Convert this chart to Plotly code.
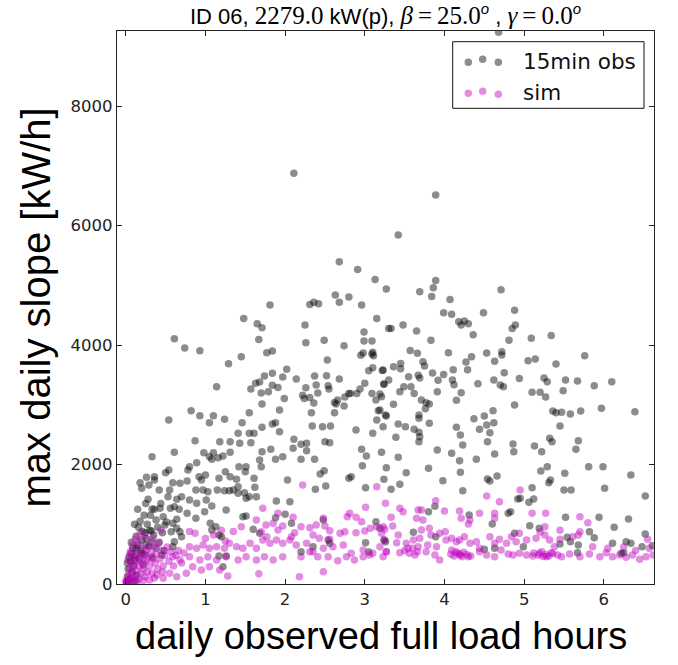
import plotly.graph_objects as go

# ---------------- data ----------------
obs_x = [
    4.68, 2.11, 3.89, 3.42, 2.68, 2.91, 3.13, 3.27, 2.63, 2.68, 2.80, 2.96, 2.31, 2.36, 2.42, 1.81, 1.48, 1.65, 1.71, 1.67,
    1.77, 1.84, 2.25, 2.26, 2.49, 2.53, 2.74, 2.99, 2.99, 3.09, 2.95, 2.98, 3.10, 3.11, 3.09, 3.15, 3.30, 0.61, 0.74, 0.93,
    1.45, 1.29, 1.14, 1.57, 1.63, 1.68, 1.74, 1.84, 1.70, 1.79, 1.84, 1.91, 1.71, 1.97, 2.02, 1.99, 1.93, 2.14, 2.26, 2.22,
    2.24, 2.31, 2.36, 2.33, 2.37, 2.39, 2.41, 2.52, 2.54, 2.55, 2.68, 2.62, 2.66, 2.75, 2.80, 2.82, 2.74, 2.62, 2.90, 2.94,
    3.00, 3.09, 3.19, 3.05, 3.10, 3.22, 3.14, 3.24, 3.17, 3.26, 0.82, 0.93, 1.10, 1.24, 1.55, 0.54,
    3.89, 3.86, 3.84, 3.69, 4.07, 3.99, 4.09, 4.18, 4.21, 4.25, 4.30, 4.36, 4.49, 4.71, 4.88, 4.89, 4.85, 4.81, 5.09, 5.34,
    3.33, 3.48, 3.65, 3.83, 3.57, 3.66, 4.05, 4.34, 4.27, 4.53, 4.72, 4.72, 4.63, 5.05, 5.14, 5.40, 5.76, 3.36, 3.45, 3.45,
    3.23, 3.73, 3.75, 3.55, 3.67, 3.69, 3.85, 3.99, 4.11, 3.92, 4.10, 4.12, 4.29, 4.42, 4.62, 4.75, 4.70, 4.74, 4.94, 5.25,
    5.29, 5.52, 5.67, 5.88, 6.10, 3.24, 3.30, 3.21, 3.49, 3.58, 3.44, 3.62, 3.71, 3.77, 3.81, 3.76, 3.91, 4.21, 4.15, 3.36,
    5.10, 5.20, 5.27, 5.49, 4.88, 5.36, 5.40, 5.47, 5.58, 5.71, 5.97, 6.39, 3.19, 3.27, 3.68, 3.68, 4.37, 4.50, 4.61,
    3.23, 3.42, 3.51, 3.39, 3.21, 3.42, 3.27, 3.52, 3.24, 3.44, 3.33, 3.62, 3.68, 3.69, 3.68, 3.81, 3.91, 3.80, 3.98, 3.80,
    3.88, 3.61, 3.89, 4.15, 4.20, 4.23, 4.09, 4.19, 4.20, 4.23, 4.44, 4.53, 4.62, 4.57, 4.54, 4.40, 4.63, 4.54, 4.57, 4.66,
    4.86, 4.87, 5.13, 5.22, 5.32, 5.35, 5.21, 5.29, 5.33, 5.31, 5.10, 4.92, 4.95, 5.06, 5.12, 5.45, 5.51, 5.59, 5.50, 5.65,
    5.68, 5.81, 5.99, 6.01, 6.34, 6.52, 5.52, 5.94, 6.13, 6.31, 6.52, 5.82, 5.45, 5.54, 5.58, 5.68, 5.67, 5.88, 6.11, 6.28,
    6.34, 6.48, 6.61, 6.22, 6.25, 4.99, 5.07, 5.19, 4.88, 4.80, 4.83, 4.60, 4.31, 4.50, 4.63, 3.19, 3.26,
    0.33, 0.61, 0.54, 0.50, 0.18, 0.26, 0.36, 0.20, 0.29, 0.36, 0.42, 0.28, 0.33, 0.43, 0.38, 0.47, 0.55, 0.59, 0.68, 0.77,
    0.53, 0.64, 0.70, 0.56, 0.61, 0.67, 0.49, 0.59, 0.64, 0.57, 0.64, 0.68, 0.70, 0.24, 0.32, 0.33, 0.20, 0.13, 0.07, 0.11,
    0.20, 0.45, 0.25, 0.59, 0.61, 0.78, 0.80, 0.87, 0.89, 0.98, 1.05, 1.10, 0.92, 0.95, 1.00, 0.88, 0.97, 1.03, 0.80, 0.89,
    1.01, 1.08, 0.77, 0.88, 0.99, 1.06, 1.13, 1.08, 1.17, 1.20, 1.18, 1.31, 1.08, 1.16, 1.22, 1.31, 1.17, 1.25, 1.31, 1.15,
    1.24, 1.26, 1.05, 1.41, 1.43, 1.46, 1.55, 1.61, 1.71, 1.57, 1.71, 1.82, 1.84, 1.88, 1.93, 1.88, 1.97, 1.68, 1.70, 1.51,
    1.42, 1.50, 1.39, 1.30, 1.35, 1.41, 1.49, 1.55, 1.51, 1.41, 1.62, 1.64, 1.61, 1.47, 1.51, 1.60, 1.68, 1.88, 1.89, 2.06,
    2.00, 2.08, 2.03, 2.11, 2.20, 2.27, 2.10, 2.20, 2.27, 2.37, 2.38, 2.44, 2.49, 2.51, 2.34, 2.47, 2.57, 2.64, 2.50, 2.56,
    2.89, 3.10, 2.80, 2.83, 2.96, 3.02, 2.97, 3.01, 3.15, 3.14, 2.48, 1.17, 1.26, 1.22, 2.35, 2.20, 2.54, 2.56, 3.01, 3.24,
    3.05,
    0.02, 0.03, 0.05, 0.06, 0.08, 0.09, 0.10, 0.12, 0.13, 0.14, 0.15, 0.16, 0.17, 0.18, 0.19, 0.21, 0.22, 0.23, 0.24, 0.26,
    0.27, 0.29, 0.30, 0.31, 0.33, 0.35, 0.36, 0.38, 0.40, 0.42, 0.44, 0.46, 0.48, 0.51, 0.04, 0.07, 0.11, 0.25, 0.15, 0.01,
    0.04, 0.12, 0.02,
]
obs_y = [
    9240, 6880, 6512, 5842, 5395, 5268, 5100, 4938, 4838, 4716, 4804, 4670, 4682, 4720, 4692, 4670, 4447, 4357, 4290, 4096,
    3872, 3900, 4336, 4040, 4080, 3750, 3990, 4218, 4068, 4068, 3830, 3870, 3880, 3820, 3850, 4447, 4280, 4106, 3950, 3905,
    3805, 3688, 3303, 3264, 3360, 3381, 3482, 3527, 3197, 3219, 3326, 3292, 3013, 3465, 3594, 3108, 2913, 3432, 3286, 3159,
    3108, 3125, 3030, 2868, 3482, 3331, 3197, 3487, 3320, 3264, 3432, 3041, 3080, 3130, 3192, 3192, 2980, 2868, 3192, 3264,
    3360, 3192, 3180, 3571, 3621, 3577, 3080, 3348, 2901, 2829, 2901, 2817, 2817, 2757, 2868, 2745,
    5084, 4960, 4816, 4893, 4766, 4542, 4515, 4391, 4336, 4403, 4357, 4173, 4542, 4927, 4582, 4336, 4280, 4080, 4113, 4163,
    4280, 4336, 4235, 4080, 3912, 3862, 3872, 3805, 3716, 3867, 3889, 3834, 3728, 3738, 3766, 3683, 3822, 3638, 3694, 3605,
    3582, 3722, 3650, 3471, 3494, 3448, 3532, 3510, 3588, 3410, 3415, 3337, 3588, 3353, 3415, 3537, 3331, 3303, 3443, 3448,
    3387, 3415, 3398, 3320, 3387, 3343, 3415, 3136, 3303, 3303, 3220, 3192, 3080, 3035, 3013, 2935, 3220, 3203, 3075, 3008,
    3209, 3209, 3130, 3236, 2996, 2896, 2868, 2874, 2846, 2896, 2941, 2885, 2913, 2812, 2829, 2774, 2768, 2812, 2901,
    2633, 2678, 2633, 2456, 2205, 2121, 1947, 1863, 1753, 1669, 1585, 2590, 2539, 2466, 2382, 2690, 2243, 1937, 1729, 1210,
    1300, 865, 792, 2623, 2494, 2327, 2188, 2064, 1870, 1562, 2590, 2662, 2700, 2533, 2382, 2087, 2176, 1758, 1724, 1808,
    2344, 2215, 2310, 2215, 2439, 2382, 1892, 1964, 1741, 1696, 1612, 1423, 1435, 1368, 1423, 2645, 1853, 1574, 1574, 2255,
    2399, 1964, 1964, 1602, 1825, 1473, 1116, 1116, 949, 1088, 837, 876, 670, 782, 708, 653, 524, 775, 681, 708,
    681, 624, 641, 514, 524, 624, 976, 932, 849, 1183, 1210, 1004, 1155, 581, 598, 932, 708,
    2131, 2205, 1908, 1863, 1696, 1786, 1796, 1602, 1657, 1741, 1574, 1418, 1256, 1267, 1071, 1127, 1574, 1696, 1686, 1724,
    1461, 1418, 1461, 1267, 1294, 1250, 988, 1016, 932, 876, 1083, 876, 792, 859, 887, 708, 737, 598, 514, 402,
    514, 485, 653, 624, 708, 1908, 1964, 2399, 2030, 2198, 2131, 2198, 1796, 1741, 1825, 1574, 1574, 1545, 1406, 1351,
    1406, 1306, 1183, 1100, 1210, 1016, 959, 904, 820, 792, 2382, 2382, 2087, 2115, 2143, 2205, 1769, 1880, 1796, 1574,
    1562, 1239, 2700, 2523, 2355, 2700, 2523, 2523, 2623, 2366, 2215, 2255, 2678, 2700, 2550, 2087, 2131, 2076, 1964, 1964,
    1964, 1880, 1753, 1562, 1574, 1518, 1528, 1461, 1435, 1630, 1618, 1461, 1769, 1127, 1138, 915, 849, 1110, 1390, 1378,
    1167, 1016, 1741, 2422, 2339, 2355, 2272, 2087, 2231, 2087, 1585, 1841, 1897, 1640, 2645, 2633, 2645, 3013, 2382, 2366,
    2578, 2523, 1769, 1796, 2255, 2143, 1980, 1612, 2745, 1043, 1071, 469, 469, 290, 624, 541, 737, 681, 692, 737,
    535,
    120, 250, 80, 380, 200, 600, 300, 480, 800, 150, 650, 950, 420, 1050, 560, 880, 320, 1150, 500, 760,
    1000, 620, 900, 1150, 450, 820, 1250, 600, 950, 700, 1350, 860, 560, 1040, 450, 700, 1000, 1350, 1250, 30,
    20, 60, 350,
]

sim_x = [
    3.15, 3.26, 3.01, 1.72, 1.91, 2.10, 2.81, 2.78, 2.89, 2.96, 2.48, 1.45, 1.64, 1.76, 1.85, 1.91, 1.97, 1.70, 1.77, 2.20,
    2.31, 2.39, 2.50, 2.56, 2.69, 2.75, 2.89, 3.00, 3.07, 3.15, 3.25, 2.12, 2.08, 2.35, 2.43, 2.56,
    1.97, 2.06, 2.14, 2.27, 2.35, 2.48, 2.60, 2.73, 2.83, 2.98, 3.06, 3.19, 3.27,
    1.89, 1.81, 1.72, 1.64, 1.56, 1.47, 1.39, 1.30, 1.24, 1.14, 1.05, 0.97, 0.89, 0.80,
    1.97, 1.85, 1.74, 1.64, 1.51, 1.41, 1.26, 1.14, 1.03, 0.93, 0.80, 0.68, 0.59,
    2.20, 2.31, 2.41, 2.54, 2.66, 2.77, 2.87, 2.98, 3.10, 3.23,
    0.84, 0.95, 1.05, 1.18, 1.28, 2.48, 0.76, 0.64, 0.55, 0.47, 0.39, 0.30, 2.22, 1.67, 2.18,
    4.53, 4.95, 3.89, 4.69, 4.44, 4.63, 4.63, 3.44, 3.48, 3.67, 3.71, 3.65, 3.73, 4.00, 4.19, 4.21, 4.32, 4.30, 4.01, 3.33,
    3.35, 3.23, 3.21, 3.25, 3.42, 3.40, 3.52, 3.61, 3.54, 3.71, 3.81, 3.83, 3.94, 4.02, 3.90, 3.79, 3.69, 3.67,
    4.09, 4.15, 4.19, 4.25, 4.32, 4.40, 4.44, 4.57, 4.63, 4.69, 4.78, 4.84, 4.90, 4.94, 5.03, 5.15, 5.26, 5.32, 5.38, 5.45,
    5.61, 5.68, 5.80, 5.70, 5.86, 5.70,
    3.27, 3.44, 3.56, 3.63, 3.77, 3.88, 3.94, 4.09, 4.19, 4.30, 4.44, 4.53, 4.63, 4.71, 4.80, 4.86, 4.94, 5.03, 5.11, 5.19,
    5.28, 5.34, 5.42, 5.47, 5.57, 5.70, 5.82, 5.95, 6.03, 6.11, 6.20, 6.28, 6.36, 6.45, 6.53, 6.62,
    4.08, 4.12, 4.16, 4.20, 4.24, 4.28, 4.33, 4.14, 4.22, 5.12, 5.18, 5.22, 5.27, 5.31, 5.36, 5.24, 3.50, 3.60, 3.66,
    5.10, 5.27, 5.20, 5.26, 5.45, 6.05, 6.25, 6.40, 6.57, 6.55,
    0.01, 0.02, 0.03, 0.04, 0.05, 0.06, 0.07, 0.08, 0.09, 0.10, 0.11, 0.12, 0.13, 0.14, 0.15, 0.16, 0.17, 0.18, 0.19, 0.20,
    0.21, 0.22, 0.23, 0.24, 0.25, 0.26, 0.27, 0.28, 0.29, 0.30, 0.32, 0.33, 0.34, 0.35, 0.37, 0.38, 0.40, 0.41, 0.43, 0.45,
    0.47, 0.49, 0.52, 0.54, 0.57, 0.60, 0.63, 0.66, 0.70, 0.73, 0.05, 0.08, 0.12, 0.18, 0.10, 0.14, 0.22, 0.03, 0.06, 0.16,
    0.24, 0.34, 0.44, 0.36, 0.46, 0.02, 0.00, 0.87, 0.80, 1.00, 1.10, 1.25, 1.35, 1.20,
]
sim_y = [
    1629, 1351, 1284, 1267, 1183, 1116, 1183, 1127, 1116, 1043, 1100, 959, 1071, 988, 1016, 904, 971, 876, 792, 959,
    943, 988, 971, 892, 849, 876, 859, 887, 932, 959, 915, 859, 792, 820, 765, 748,
    681, 737, 653, 681, 541, 598, 624, 653, 514, 569, 485, 624, 541,
    737, 681, 737, 598, 681, 598, 624, 681, 598, 624, 598, 653, 598, 624,
    457, 402, 457, 402, 457, 402, 457, 402, 457, 402, 457, 402, 457,
    457, 541, 457, 457, 390, 457, 402, 457, 514, 457,
    290, 234, 290, 234, 134, 206, 179, 122, 179, 95, 151, 67, 1657, 170, 120,
    1473, 1574, 1395, 1378, 1183, 1183, 1100, 1267, 1210, 1239, 1239, 1100, 1071, 1222, 1222, 1100, 1071, 1004, 876, 1116,
    971, 959, 849, 737, 820, 692, 681, 737, 598, 904, 932, 820, 849, 737, 624, 653, 765, 624,
    765, 708, 737, 792, 681, 708, 598, 792, 681, 748, 681, 792, 708, 849, 737, 765, 820, 737, 624, 748,
    792, 820, 1027, 876, 624, 1127,
    541, 524, 514, 485, 541, 485, 402, 569, 502, 457, 541, 485, 457, 569, 502, 485, 514, 485, 469, 514,
    457, 524, 485, 457, 502, 457, 502, 457, 524, 457, 485, 446, 485, 413, 457, 485,
    500, 470, 520, 480, 530, 495, 470, 540, 455, 520, 480, 540, 495, 470, 510, 460, 560, 600, 540,
    1183, 1183, 870, 960, 900, 600, 620, 560, 600, 750,
    20, 60, 150, 40, 250, 100, 350, 180, 50, 300, 450, 120, 220, 380, 520, 80, 300, 450, 180, 600,
    350, 250, 480, 120, 380, 560, 200, 420, 650, 300, 500, 180, 420, 620, 350, 500, 250, 680, 420, 560,
    300, 480, 620, 380, 540, 300, 480, 560, 350, 520, 500, 650, 750, 850, 30, 30, 60, 400, 550, 700,
    800, 760, 900, 100, 200, 0, 50, 850, 880, 760, 820, 720, 880, 900,
]

x_ticks = [0, 1, 2, 3, 4, 5, 6]
y_ticks = [0, 2000, 4000, 6000, 8000]
series_names = ["15min obs", "sim"]

# ---------------- styling ----------------
W, H = 678, 665
L, R, T, B = 117, 24, 31, 81
OBS_COLOR = "rgba(0,0,0,0.45)"
SIM_COLOR = "rgba(191,0,191,0.45)"
MS = 7.5

fig = go.Figure()
fig.add_trace(go.Scatter(x=obs_x, y=obs_y, mode="markers", name=series_names[0],
                         marker=dict(size=MS, color=OBS_COLOR, line=dict(width=0)),
                         showlegend=False, hoverinfo="x+y"))
fig.add_trace(go.Scatter(x=sim_x, y=sim_y, mode="markers", name=series_names[1],
                         marker=dict(size=MS, color=SIM_COLOR, line=dict(width=0)),
                         showlegend=False, hoverinfo="x+y"))

axis_common = dict(showgrid=False, zeroline=False, showline=True, linecolor="#222",
                   linewidth=1.3, mirror="ticks", ticks="inside", ticklen=5,
                   tickwidth=1, tickcolor="#222",
                   tickfont=dict(family="DejaVu Sans", size=16.5, color="#222"))

fig.update_xaxes(range=[-0.11, 6.63], tickvals=x_ticks,
                 ticktext=[str(v) for v in x_ticks], **axis_common)
fig.update_yaxes(range=[0, 9260], tickvals=y_ticks,
                 ticktext=[str(v) for v in y_ticks], **axis_common)

pw, ph = W - L - R, H - T - B


def px_x(px):
    return (px - L) / pw


def px_y(py):
    return (H - B - py) / ph


shapes = []
annotations = []
# custom legend box (matplotlib style with three scatter points)
shapes.append(dict(type="rect", xref="paper", yref="paper",
                   x0=px_x(452.7), x1=px_x(644), y0=px_y(108.3), y1=px_y(41.7),
                   line=dict(color="#111", width=1), fillcolor="white", layer="above"))
legend_rows = [(62.3, OBS_COLOR, [0, -3, 0]), (93.3, SIM_COLOR, [0, -2, 1])]
for (cy, col, offs) in legend_rows:
    for cx, dy in zip([468.3, 482.7, 498.3], offs):
        r = MS / 2
        shapes.append(dict(type="circle", xref="paper", yref="paper",
                           x0=px_x(cx - r), x1=px_x(cx + r),
                           y0=px_y(cy + dy + r), y1=px_y(cy + dy - r),
                           fillcolor=col, line=dict(width=0), layer="above"))
for name, cy in zip(series_names, [61.0, 92.5]):
    annotations.append(dict(text=name, xref="paper", yref="paper", x=px_x(521), y=px_y(cy),
                            xanchor="left", yanchor="middle", showarrow=False,
                            font=dict(family="DejaVu Sans", size=21.5, color="#111")))

# axis titles
annotations.append(dict(text="daily observed full load hours", xref="paper", yref="paper",
                        x=px_x(381), y=0, yshift=-52, xanchor="center", yanchor="middle",
                        showarrow=False,
                        font=dict(family="Liberation Sans, Arial", size=38, color="black")))
annotations.append(dict(text="max daily slope [kW/h]", xref="paper", yref="paper",
                        x=0, xshift=-82, y=0.5, xanchor="center", yanchor="middle",
                        textangle=-90, showarrow=False,
                        font=dict(family="Liberation Sans, Arial", size=40, color="black")))

SER = 'style="font-family:Liberation Serif;font-size:25px"'
SUP = '<sup><span style="font-size:15px"><i>o</i></span></sup>'
title_txt = (f'ID 06, <span {SER}>2279.0</span> kW(p), '
             f'<span {SER}><i>β</i>\u2009=\u200925.0</span>{SUP} , '
             f'<span {SER}><i>γ</i>\u2009=\u20090.0</span>{SUP}')

fig.update_layout(
    width=W, height=H,
    margin=dict(l=L, r=R, t=T, b=B, pad=0),
    paper_bgcolor="white", plot_bgcolor="white",
    title=dict(text=title_txt, x=(L + pw / 2) / W, xanchor="center",
               y=1 - 16 / H, yanchor="middle",
               font=dict(family="Liberation Sans, Arial", size=22, color="black")),
    shapes=shapes, annotations=annotations,
    showlegend=False,
)

fig.write_html("out.html", config={"displayModeBar": False},
               post_script="document.body.style.margin='0px';document.body.style.padding='0px';")
